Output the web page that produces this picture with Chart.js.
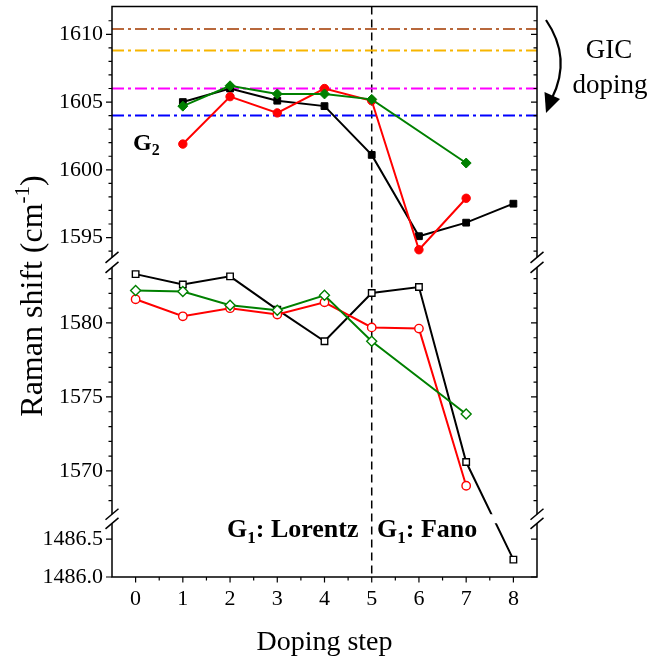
<!DOCTYPE html>
<html>
<head>
<meta charset="utf-8">
<script src="https://cdn.jsdelivr.net/npm/chart.js@4.4.0/dist/chart.umd.min.js"></script>
<style>
  html, body { margin: 0; padding: 0; background: #fff; }
</style>
</head>
<body>
<canvas id="myChart" width="663" height="657"></canvas>
<script>
// doping steps (x)
const steps = [0, 1, 2, 3, 4, 5, 6, 7, 8];

// G2 band, filled markers
const g2Black = [null, 1605.0, 1606.0, 1605.1, 1604.7, 1601.1, 1595.1, 1596.1, 1597.5];
const g2Red   = [null, 1601.9, 1605.4, 1604.2, 1606.0, 1605.1, 1594.1, 1597.9, null];
const g2Green = [null, 1604.7, 1606.2, 1605.6, 1605.6, 1605.2, null, 1600.5, null];

// G1 band, open markers
const g1Black = [1583.3, 1582.6, 1583.15, 1580.9, 1578.76, 1582.03, 1582.43, 1570.6, 1486.23];
const g1Red   = [1581.6, 1580.45, 1581.0, 1580.57, 1581.4, 1579.7, 1579.62, 1569.0, null];
const g1Green = [1582.19, 1582.12, 1581.2, 1580.86, 1581.87, 1578.76, null, 1573.85, null];

// GIC stage reference lines (top to bottom)
const gicLines = [1610.4, 1608.8, 1606.0, 1604.0];

// axis ticks
const xTicks = [0, 1, 2, 3, 4, 5, 6, 7, 8];
const xMinor = [0.5, 1.5, 2.5, 3.5, 4.5, 5.5, 6.5, 7.5];
const yTicks = [1486.0, 1486.5, 1570, 1575, 1580, 1595, 1600, 1605, 1610];
const yTickLabels = ["1486.0", "1486.5", "1570", "1575", "1580", "1595", "1600", "1605", "1610"];
const yMinor = [1568, 1569, 1571, 1572, 1573, 1574, 1576, 1577, 1578, 1579, 1581, 1582, 1583,
                1594, 1596, 1597, 1598, 1599, 1601, 1602, 1603, 1604, 1606, 1607, 1608, 1609, 1611];

// broken y axis: value range of each piece and the share of the axis it takes
const segRanges = [[1486.0, 1486.71], [1567.07, 1583.76], [1593.54, 1612.06]];
const segSpans  = [[0, 0.0941], [0.1099, 0.5427], [0.5602, 1]];

const FONT = "'Liberation Serif', 'Times New Roman', serif";

function yMap(v) {
  for (let i = 0; i < segRanges.length; i++) {
    const [lo, hi] = segRanges[i], [f0, f1] = segSpans[i];
    if (v >= lo - 1e-9 && v <= hi + 1e-9) return f0 + (v - lo) / (hi - lo) * (f1 - f0);
  }
  return null;
}

function pts(arr) {
  const out = [];
  arr.forEach((v, i) => { if (v !== null) out.push({ x: steps[i], y: yMap(v) }); });
  return out;
}

function series(data, color, style, radius, open, order) {
  return {
    data: pts(data),
    borderColor: color,
    borderWidth: 2,
    pointStyle: style,
    pointRadius: radius,
    pointBorderColor: color,
    pointBackgroundColor: open ? '#ffffff' : color,
    pointBorderWidth: open ? 1.4 : 1,
    spanGaps: true,
    order: order
  };
}

const gicColors = ['#b8683c', '#f7b500', '#ff00ff', '#0000ff'];
const refSets = gicLines.map((v, i) => ({
  data: [{ x: -0.5, y: yMap(v) }, { x: 8.5, y: yMap(v) }],
  borderColor: gicColors[i],
  borderWidth: 2,
  borderDash: [12, 4, 3, 4],
  pointRadius: 0,
  order: 20
}));

function drawSub(ctx, x, y, main, sub, rest, size) {
  ctx.font = `bold ${size}px ${FONT}`;
  ctx.fillText(main, x, y);
  let w = ctx.measureText(main).width;
  ctx.font = `bold ${Math.round(size * 0.66)}px ${FONT}`;
  ctx.fillText(sub, x + w, y + size * 0.22);
  w += ctx.measureText(sub).width;
  ctx.font = `bold ${size}px ${FONT}`;
  ctx.fillText(rest, x + w, y);
}

const deco = {
  id: 'deco',
  beforeDatasetsDraw(chart) {
    const { ctx, chartArea: a, scales: { x, y } } = chart;
    // vertical dashed line at step 5
    ctx.save();
    ctx.strokeStyle = '#000';
    ctx.lineWidth = 1.5;
    ctx.setLineDash([8, 5]);
    const px = x.getPixelForValue(5);
    ctx.beginPath();
    ctx.moveTo(px, a.top);
    ctx.lineTo(px, a.bottom);
    ctx.stroke();
    ctx.restore();
    // clip data to the axis pieces
    ctx.save();
    ctx.beginPath();
    segSpans.forEach(([f0, f1]) => {
      const yb = y.getPixelForValue(f0), yt = y.getPixelForValue(f1);
      ctx.rect(a.left - 10, yt, a.right - a.left + 20, yb - yt);
    });
    ctx.clip();
  },
  afterDatasetsDraw(chart) {
    chart.ctx.restore();
  },
  afterDraw(chart) {
    const { ctx, chartArea: a, scales: { x, y } } = chart;
    ctx.save();
    ctx.strokeStyle = '#000';
    ctx.fillStyle = '#000';
    ctx.lineWidth = 1.5;
    ctx.setLineDash([]);

    // axis lines
    ctx.beginPath();
    segSpans.forEach(([f0, f1]) => {
      const yb = y.getPixelForValue(f0), yt = y.getPixelForValue(f1);
      ctx.moveTo(a.left, yb); ctx.lineTo(a.left, yt);
      ctx.moveTo(a.right, yb); ctx.lineTo(a.right, yt);
    });
    ctx.moveTo(a.left - 0.75, a.top); ctx.lineTo(a.right + 0.75, a.top);
    ctx.moveTo(a.left - 0.75, a.bottom); ctx.lineTo(a.right + 0.75, a.bottom);
    ctx.stroke();

    // ticks
    ctx.lineWidth = 1.2;
    ctx.beginPath();
    yTicks.forEach(v => {
      const p = y.getPixelForValue(yMap(v));
      ctx.moveTo(a.left - 6, p); ctx.lineTo(a.left, p);
      ctx.moveTo(a.right - 6, p); ctx.lineTo(a.right, p);
    });
    yMinor.forEach(v => {
      const p = y.getPixelForValue(yMap(v));
      ctx.moveTo(a.left - 3.5, p); ctx.lineTo(a.left, p);
      ctx.moveTo(a.right - 3.5, p); ctx.lineTo(a.right, p);
    });
    xTicks.forEach(v => {
      const p = x.getPixelForValue(v);
      ctx.moveTo(p, a.bottom); ctx.lineTo(p, a.bottom + 5.5);
    });
    xMinor.forEach(v => {
      const p = x.getPixelForValue(v);
      ctx.moveTo(p, a.bottom); ctx.lineTo(p, a.bottom + 3.5);
    });
    ctx.stroke();

    // break marks
    ctx.lineWidth = 1.5;
    ctx.beginPath();
    for (let i = 0; i < segSpans.length - 1; i++) {
      const yLow = y.getPixelForValue(segSpans[i][1]);
      const yHigh = y.getPixelForValue(segSpans[i + 1][0]);
      [yLow, yHigh].forEach(p => {
        [a.left, a.right].forEach(ax => {
          ctx.moveTo(ax - 6.5, p + 5.5);
          ctx.lineTo(ax + 6.5, p - 5.5);
        });
      });
    }
    ctx.stroke();

    // labels in the plot
    ctx.textAlign = 'left';
    ctx.textBaseline = 'alphabetic';
    drawSub(ctx, 133, 150, 'G', '2', '', 24);
    drawSub(ctx, 227, 537, 'G', '1', ': Lorentz', 26);
    drawSub(ctx, 377, 537, 'G', '1', ': Fano', 26);

    // GIC doping note with arrow
    ctx.textAlign = 'center';
    ctx.font = `27px ${FONT}`;
    ctx.fillText('GIC', 609, 58);
    ctx.fillText('doping', 610, 93);
    ctx.lineWidth = 2.2;
    ctx.beginPath();
    ctx.moveTo(546, 20);
    ctx.quadraticCurveTo(572, 58, 552, 98);
    ctx.stroke();
    ctx.beginPath();
    ctx.moveTo(546, 113);
    ctx.lineTo(544.5, 92);
    ctx.lineTo(560, 99);
    ctx.closePath();
    ctx.fill();

    // axis titles
    ctx.font = `28px ${FONT}`;
    ctx.textAlign = 'center';
    ctx.fillText('Doping step', (a.left + a.right) / 2, 650);

    ctx.translate(42, 296);
    ctx.rotate(-Math.PI / 2);
    const big = 32, small = 21;
    ctx.textAlign = 'left';
    ctx.font = `${big}px ${FONT}`;
    const t1 = 'Raman shift (cm', t3 = ')';
    const w1 = ctx.measureText(t1).width, w3 = ctx.measureText(t3).width;
    ctx.font = `${small}px ${FONT}`;
    const w2 = ctx.measureText('-1').width;
    let sx = -(w1 + w2 + w3) / 2;
    ctx.font = `${big}px ${FONT}`;
    ctx.fillText(t1, sx, 0);
    ctx.font = `${small}px ${FONT}`;
    ctx.fillText('-1', sx + w1, -13);
    ctx.font = `${big}px ${FONT}`;
    ctx.fillText(t3, sx + w1 + w2, 0);
    ctx.restore();
  }
};

function noPad(s) {
  s.paddingTop = 0; s.paddingBottom = 0; s.paddingLeft = 0; s.paddingRight = 0;
}

new Chart(document.getElementById('myChart'), {
  type: 'line',
  data: {
    datasets: [
      series(g2Green, '#008000', 'rectRot', 5, false, 1),
      series(g2Red, '#ff0000', 'circle', 4.2, false, 2),
      series(g2Black, '#000000', 'rect', 4.8, false, 3),
      series(g1Green, '#008000', 'rectRot', 5, true, 4),
      series(g1Red, '#ff0000', 'circle', 4.2, true, 5),
      series(g1Black, '#000000', 'rect', 4.6, true, 6),
      ...refSets
    ]
  },
  options: {
    responsive: false,
    animation: false,
    devicePixelRatio: 1,
    layout: { padding: { left: 0, right: 126, top: 6, bottom: 0 } },
    plugins: { legend: { display: false }, tooltip: { enabled: false } },
    scales: {
      x: {
        type: 'linear',
        min: -0.5,
        max: 8.5,
        afterBuildTicks: s => { s.ticks = xTicks.map(v => ({ value: v })); },
        afterFit: s => { s.height = 80; noPad(s); },
        grid: { display: false, drawTicks: false },
        border: { display: false },
        ticks: {
          autoSkip: false,
          maxRotation: 0,
          padding: 9,
          color: '#000',
          font: { family: FONT, size: 22 },
          callback: v => String(v)
        }
      },
      y: {
        type: 'linear',
        min: 0,
        max: 1,
        afterBuildTicks: s => { s.ticks = yTicks.map(v => ({ value: yMap(v) })); },
        afterFit: s => { s.width = 112; noPad(s); },
        grid: { display: false, drawTicks: false },
        border: { display: false },
        ticks: {
          autoSkip: false,
          padding: 9,
          color: '#000',
          font: { family: FONT, size: 22 },
          callback: (v, i) => yTickLabels[i]
        }
      }
    }
  },
  plugins: [deco]
});
</script>
</body>
</html>
